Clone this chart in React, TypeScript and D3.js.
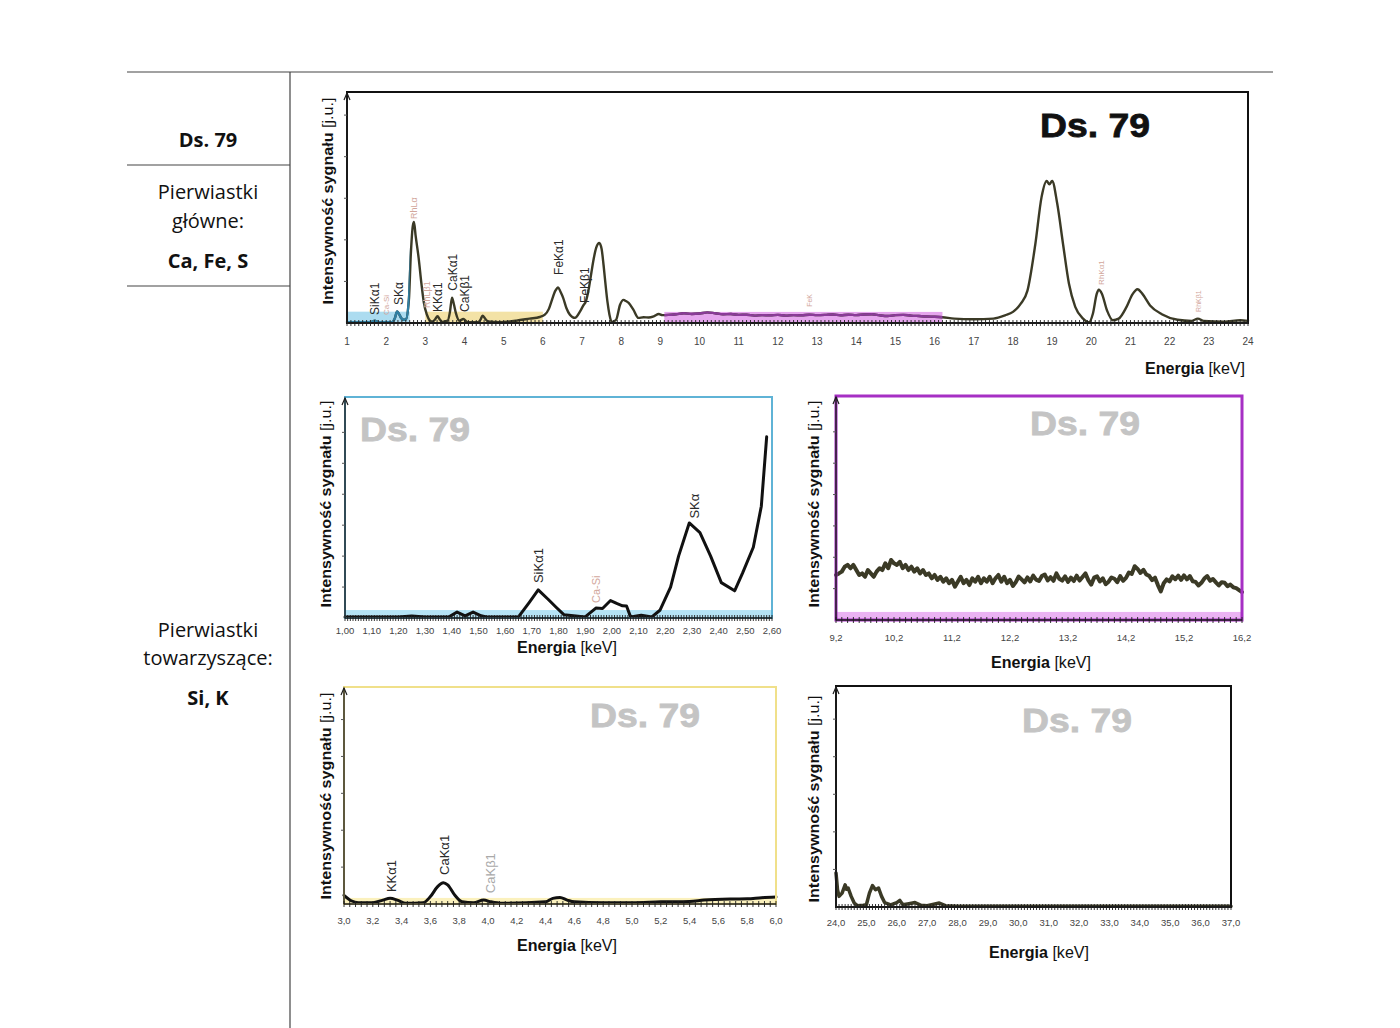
import React from 'react';
import * as d3 from 'd3';

type Pt = [number, number];
type PeakLabel = { text: string; e: number; v: number; color: string; size: number };

const sampleName = 'Ds. 79';
const mainHeader = ['Pierwiastki', 'główne:'];
const mainList = 'Ca, Fe, S';
const traceHeader = ['Pierwiastki', 'towarzyszące:'];
const traceList = 'Si, K';
const yTitleBold = 'Intensywność sygnału';
const yTitleUnit = ' [j.u.]';
const xTitleBold = 'Energia';
const xTitleUnit = ' [keV]';

const DARK = '#2a2a2a';
const PINK = '#d2a79c';
const OLIVE = '#3b3a26';

// Full spectrum 1–24 keV: [energy keV, intensity a.u.]
const topSpectrum: Pt[] = [
  [1.0, 0.4], [1.3, 0.3], [1.56, 0.4], [1.65, 0.6], [1.71, 1.0], [1.78, 0.5], [1.86, 0.3], [2.0, 0.4],
  [2.15, 0.4], [2.22, 2.0], [2.28, 5.0], [2.34, 3.5], [2.39, 2.0], [2.45, 1.4], [2.5, 1.5], [2.58, 10],
  [2.63, 30], [2.68, 42], [2.71, 43.7], [2.75, 38], [2.83, 28], [2.9, 17], [2.96, 9], [3.04, 3.6],
  [3.12, 1.0], [3.18, 0.6], [3.25, 1.6], [3.31, 2.9], [3.37, 1.5], [3.43, 0.5], [3.57, 1.0], [3.63, 5],
  [3.68, 11], [3.73, 8], [3.78, 4.3], [3.87, 1.0], [3.97, 1.7], [4.08, 0.4], [4.34, 0.4], [4.41, 1.5],
  [4.46, 3.2], [4.53, 1.8], [4.6, 0.7], [4.9, 0.4], [5.32, 1.0], [5.66, 1.9], [5.92, 2.6], [6.05, 3.6],
  [6.15, 6], [6.22, 9.4], [6.32, 14], [6.39, 15.4], [6.45, 13.5], [6.52, 10.8], [6.6, 6.5], [6.69, 3.6],
  [6.82, 2.2], [6.95, 5.0], [7.03, 7.5], [7.1, 9.5], [7.16, 13.7], [7.24, 22], [7.3, 28], [7.36, 32.5],
  [7.44, 34.6], [7.5, 32], [7.55, 25], [7.6, 16.6], [7.65, 9], [7.7, 3.6], [7.76, 0.4], [7.87, 1.4],
  [7.97, 7.9], [8.06, 10], [8.12, 9.5], [8.19, 8.7], [8.31, 5.8], [8.44, 2.2], [8.57, 2.5], [8.7, 2.4],
  [8.83, 2.9], [8.96, 3.9], [9.05, 3.4], [9.2, 3.5], [9.4, 3.8], [9.6, 4.2], [9.8, 3.9], [10.0, 4.1],
  [10.2, 4.6], [10.4, 4.2], [10.6, 3.8], [10.8, 3.9], [11.0, 3.5], [11.2, 3.6], [11.4, 3.2], [11.6, 3.4],
  [11.8, 3.3], [12.0, 3.5], [12.2, 3.2], [12.4, 3.4], [12.6, 3.3], [12.8, 3.6], [13.0, 3.4], [13.2, 3.5],
  [13.4, 3.7], [13.6, 3.3], [13.8, 3.6], [14.0, 3.4], [14.2, 3.7], [14.4, 3.8], [14.6, 3.3], [14.8, 3.0],
  [15.0, 3.4], [15.2, 3.5], [15.4, 3.2], [15.6, 3.0], [15.8, 2.8], [16.0, 2.7], [16.2, 2.5], [16.5, 1.9],
  [17.0, 1.6], [17.5, 1.9], [17.8, 3.3], [18.0, 4.8], [18.2, 8.4], [18.37, 14], [18.57, 34], [18.73, 54.5],
  [18.86, 61.5], [18.93, 60], [19.0, 61.5], [19.13, 51.7], [19.28, 34], [19.43, 17], [19.59, 7], [19.79, 1.9],
  [19.94, 0.3], [20.04, 4], [20.14, 12.7], [20.19, 14.4], [20.27, 12.7], [20.4, 5.5], [20.55, 1.2], [20.7, 1.9],
  [20.9, 7], [21.05, 12.4], [21.18, 14.6], [21.3, 12.7], [21.5, 7.6], [21.8, 3.8], [22.2, 1.4], [22.56, 0.9],
  [22.72, 1.9], [22.87, 0.9], [23.4, 0.6], [23.8, 1.2], [24.0, 0.9],
];

// Zoom 1.00–2.60 keV
const siSpectrum: Pt[] = [
  [1.0, 0.5], [1.2, 0.5], [1.25, 0.9], [1.3, 0.5], [1.39, 0.5], [1.42, 2.7], [1.45, 1.0], [1.48, 2.7],
  [1.51, 1.0], [1.53, 0.5], [1.65, 0.5], [1.69, 7], [1.724, 12.7], [1.76, 8.6], [1.79, 5], [1.82, 1.5],
  [1.9, 0.5], [1.94, 4.5], [1.965, 4.3], [1.995, 7.9], [2.02, 6.5], [2.04, 5.5], [2.055, 5.4], [2.07, 0.5],
  [2.11, 1.2], [2.15, 0.5], [2.18, 3.5], [2.22, 14], [2.25, 28], [2.29, 43], [2.33, 38.6], [2.37, 28],
  [2.41, 16], [2.46, 12.3], [2.49, 20.4], [2.53, 32], [2.56, 50.6], [2.58, 82],
];

// Zoom 9.2–16.2 keV
const feSpectrum: Pt[] = [
  [9.2, 20.1], [9.25, 20.8], [9.3, 21.6], [9.35, 23.8], [9.4, 24.6], [9.45, 23.1], [9.5, 24.6], [9.55, 22.3],
  [9.6, 20.1], [9.65, 20.8], [9.7, 19.3], [9.75, 22.3], [9.8, 20.8], [9.85, 19.3], [9.9, 21.6], [9.95, 23.1],
  [10.0, 22.3], [10.05, 25.3], [10.1, 23.1], [10.15, 26.8], [10.2, 25.3], [10.25, 24.6], [10.3, 26.0], [10.35, 23.1],
  [10.4, 24.6], [10.45, 22.3], [10.5, 23.8], [10.55, 21.6], [10.6, 23.1], [10.65, 20.8], [10.7, 22.3], [10.75, 20.1],
  [10.8, 20.8], [10.85, 18.6], [10.9, 20.1], [10.95, 17.9], [11.0, 19.3], [11.05, 17.1], [11.1, 18.6], [11.15, 16.4],
  [11.2, 17.9], [11.25, 14.9], [11.3, 17.1], [11.35, 19.3], [11.4, 16.4], [11.45, 17.9], [11.5, 15.6], [11.55, 18.6],
  [11.6, 17.1], [11.65, 19.3], [11.7, 16.4], [11.75, 18.6], [11.8, 17.1], [11.85, 19.3], [11.9, 16.4], [11.95, 18.6],
  [12.0, 20.1], [12.05, 17.1], [12.1, 19.3], [12.15, 16.4], [12.2, 17.9], [12.25, 15.2], [12.3, 16.9], [12.35, 19.4],
  [12.4, 18.1], [12.45, 16.8], [12.5, 19.0], [12.55, 17.2], [12.6, 19.8], [12.65, 18.0], [12.7, 17.4], [12.75, 19.6],
  [12.8, 20.3], [12.85, 17.7], [12.9, 19.1], [12.95, 17.5], [13.0, 20.8], [13.05, 18.4], [13.1, 17.6], [13.15, 19.5],
  [13.2, 17.0], [13.25, 18.9], [13.3, 17.4], [13.35, 19.8], [13.4, 17.6], [13.45, 19.2], [13.5, 20.8], [13.55, 17.8],
  [13.6, 15.8], [13.65, 18.9], [13.7, 19.5], [13.75, 17.2], [13.8, 18.6], [13.85, 16.0], [13.9, 17.1], [13.95, 19.0],
  [14.0, 18.4], [14.05, 16.9], [14.1, 19.6], [14.15, 17.5], [14.2, 18.8], [14.25, 21.2], [14.3, 20.6], [14.35, 24.0],
  [14.4, 22.8], [14.45, 21.0], [14.5, 22.4], [14.55, 20.3], [14.6, 19.7], [14.65, 17.8], [14.7, 18.9], [14.75, 15.6],
  [14.8, 12.8], [14.85, 16.4], [14.9, 18.1], [14.95, 17.2], [15.0, 19.5], [15.05, 18.2], [15.1, 19.8], [15.15, 17.9],
  [15.2, 19.9], [15.25, 18.1], [15.3, 19.6], [15.35, 17.3], [15.4, 17.0], [15.45, 15.4], [15.5, 16.6], [15.55, 18.5],
  [15.6, 19.6], [15.65, 17.5], [15.7, 18.3], [15.75, 16.8], [15.8, 15.4], [15.85, 16.9], [15.9, 16.6], [15.95, 15.1],
  [16.0, 15.8], [16.05, 14.6], [16.1, 14.2], [16.15, 13.3], [16.2, 12.4],
];

// Zoom 3.0–6.0 keV
const caSpectrum: Pt[] = [
  [3.0, 4], [3.05, 1.5], [3.1, 0.6], [3.2, 0.6], [3.27, 1.8], [3.32, 2.6], [3.37, 1.8], [3.43, 0.3],
  [3.55, 0.6], [3.6, 3.4], [3.65, 8], [3.69, 9.8], [3.72, 8.8], [3.77, 4], [3.82, 1], [3.9, 0.6],
  [3.97, 1.8], [4.02, 1], [4.1, 0.3], [4.4, 1], [4.45, 2.6], [4.5, 3], [4.55, 1.8], [4.6, 1],
  [4.8, 0.6], [5.0, 0.6], [5.2, 1], [5.4, 1.2], [5.5, 1.8], [5.7, 2.3], [5.8, 2.4], [5.9, 2.9], [6.0, 3.2],
];

// Zoom 24–37 keV
const highSpectrum: Pt[] = [
  [24.0, 15.4], [24.05, 7.8], [24.1, 4.8], [24.2, 6.3], [24.3, 10], [24.35, 8], [24.4, 8.6], [24.5, 4.8],
  [24.6, 1.8], [24.7, 0.6], [24.9, 0.8], [25.0, 1], [25.1, 6.3], [25.2, 9.7], [25.3, 7.8], [25.4, 8.6],
  [25.5, 4.8], [25.6, 2], [25.8, 1], [26.0, 2], [26.1, 3], [26.2, 1], [26.4, 1.5], [26.6, 2],
  [26.8, 0.8], [27.0, 0.6], [27.4, 1.8], [27.6, 0.6], [28.0, 0.3], [37.0, 0.3],
];

const topTicks = [1, 2, 3, 4, 5, 6, 7, 8, 9, 10, 11, 12, 13, 14, 15, 16, 17, 18, 19, 20, 21, 22, 23, 24];
const siTicks = [1.0, 1.1, 1.2, 1.3, 1.4, 1.5, 1.6, 1.7, 1.8, 1.9, 2.0, 2.1, 2.2, 2.3, 2.4, 2.5, 2.6];
const feTicks = [9.2, 10.2, 11.2, 12.2, 13.2, 14.2, 15.2, 16.2];
const caTicks = [3.0, 3.2, 3.4, 3.6, 3.8, 4.0, 4.2, 4.4, 4.6, 4.8, 5.0, 5.2, 5.4, 5.6, 5.8, 6.0];
const highTicks = [24, 25, 26, 27, 28, 29, 30, 31, 32, 33, 34, 35, 36, 37];

const topLabels: PeakLabel[] = [
  { text: 'SiKα1', e: 1.72, v: 3.5, color: DARK, size: 12 },
  { text: 'Ca-Si', e: 2.0, v: 3.5, color: PINK, size: 8 },
  { text: 'SKα', e: 2.31, v: 7.8, color: DARK, size: 12 },
  { text: 'RhLα', e: 2.7, v: 45, color: PINK, size: 9 },
  { text: 'RhLβ1', e: 3.05, v: 6.5, color: PINK, size: 9 },
  { text: 'KKα1', e: 3.31, v: 4.8, color: DARK, size: 12 },
  { text: 'CaKα1', e: 3.69, v: 14, color: DARK, size: 12 },
  { text: 'CaKβ1', e: 4.01, v: 4.8, color: DARK, size: 12 },
  { text: 'FeKα1', e: 6.4, v: 20.8, color: DARK, size: 12 },
  { text: 'FeKβ1', e: 7.06, v: 8.7, color: DARK, size: 12 },
  { text: 'FeK', e: 12.82, v: 7, color: PINK, size: 7 },
  { text: 'RhKα1', e: 20.25, v: 16.5, color: PINK, size: 8 },
  { text: 'RhKβ1', e: 22.74, v: 4.8, color: PINK, size: 7 },
];
const siLabels: PeakLabel[] = [
  { text: 'SiKα1', e: 1.725, v: 15.8, color: DARK, size: 13 },
  { text: 'Ca-Si', e: 1.94, v: 6.8, color: PINK, size: 11 },
  { text: 'SKα', e: 2.31, v: 45, color: DARK, size: 13 },
];
const caLabels: PeakLabel[] = [
  { text: 'KKα1', e: 3.33, v: 5.5, color: DARK, size: 13 },
  { text: 'CaKα1', e: 3.7, v: 13.4, color: DARK, size: 13 },
  { text: 'CaKβ1', e: 4.02, v: 5, color: '#a9a9a9', size: 13 },
];

interface ChartCfg {
  id: string;
  left: number; right: number; top: number; bottom: number;
  xDomain: [number, number];
  ticks: number[];
  fmt: (v: number) => string;
  minorStep: number;
  data: Pt[];
  curve: any;
  lineColor: string; lineWidth: number;
  frameColor: string; frameWidth: number;
  bands: { from: number; to: number; color: string; top: number }[];
  overlays: { from: number; to: number; color: string }[];
  yTickStep: number; yTickCount: number;
  tickLabelY: number; tickFont: number;
  yTitleX: number; yTitleY: number;
  xTitleX: number; xTitleY: number; xTitleAnchor: 'start' | 'middle' | 'end';
  wmX: number; wmY: number; wmColor: string;
  labels: PeakLabel[];
}

const comma = (digits: number) => (v: number) => v.toFixed(digits).replace('.', ',');

function Chart({ c }: { c: ChartCfg }) {
  const x = d3.scaleLinear().domain(c.xDomain).range([c.left, c.right]);
  const y = d3.scaleLinear().domain([0, 100]).range([c.bottom, c.top]);
  const line = d3.line<Pt>().x(d => x(d[0])).y(d => y(d[1])).curve(c.curve);
  const path = line(c.data) || '';
  const minor = d3.range(c.xDomain[0], c.xDomain[1] + c.minorStep * 0.5, c.minorStep);
  const yTicks = d3.range(1, c.yTickCount + 1).map(i => i * c.yTickStep);
  return (
    <g>
      <defs>
        {c.overlays.map((o, i) => (
          <clipPath id={`${c.id}-clip-${i}`} key={i}>
            <rect x={x(o.from)} y={c.top} width={x(o.to) - x(o.from)} height={c.bottom - c.top + 6} />
          </clipPath>
        ))}
      </defs>
      {c.bands.map((b, i) => (
        <rect key={i} x={x(b.from)} y={y(b.top)} width={x(b.to) - x(b.from)} height={c.bottom - y(b.top)} fill={b.color} />
      ))}
      <path d={path} fill="none" stroke={c.lineColor} strokeWidth={c.lineWidth} strokeLinejoin="round" strokeLinecap="round" />
      {c.overlays.map((o, i) => (
        <path key={i} d={path} fill="none" stroke={o.color} strokeWidth={c.lineWidth} strokeLinejoin="round"
          clipPath={`url(#${c.id}-clip-${i})`} />
      ))}
      <rect x={c.left} y={c.top} width={c.right - c.left} height={c.bottom - c.top} fill="none"
        stroke={c.frameColor} strokeWidth={c.frameWidth} />
      <line x1={c.left} x2={c.right} y1={c.bottom} y2={c.bottom} stroke="#1e1e1e" strokeWidth={1.6} />
      {minor.map((m, i) => (
        <line key={i} x1={x(m)} x2={x(m)} y1={c.bottom - 3} y2={c.bottom + 3} stroke="#1e1e1e" strokeWidth={0.9} />
      ))}
      <line x1={c.left} x2={c.left} y1={c.bottom} y2={c.top + 1} stroke="#1e1e1e" strokeWidth={1.4} />
      <path d={`M${c.left - 3},${c.top + 8} L${c.left},${c.top + 1} L${c.left + 3},${c.top + 8}`} fill="none" stroke="#1e1e1e" strokeWidth={1.2} />
      {yTicks.map((t, i) => (
        <line key={i} x1={c.left - 3} x2={c.left} y1={y(t)} y2={y(t)} stroke="#555" strokeWidth={1} />
      ))}
      {c.ticks.map((t, i) => (
        <text key={i} x={x(t)} y={c.tickLabelY} textAnchor="middle" fontSize={c.tickFont} fill="#444">{c.fmt(t)}</text>
      ))}
      <text transform={`translate(${c.yTitleX},${c.yTitleY}) rotate(-90)`} textAnchor="middle" dominantBaseline="central"
        fontSize={15} textLength={207} lengthAdjust="spacingAndGlyphs" fill="#111">
        <tspan fontWeight="bold">{yTitleBold}</tspan>
        <tspan>{yTitleUnit}</tspan>
      </text>
      <text x={c.xTitleX} y={c.xTitleY} textAnchor={c.xTitleAnchor} fontSize={17} textLength={100}
        lengthAdjust="spacingAndGlyphs" fill="#111">
        <tspan fontWeight="bold">{xTitleBold}</tspan>
        <tspan>{xTitleUnit}</tspan>
      </text>
      <text x={c.wmX} y={c.wmY} fontSize={34} fontWeight="bold" fill={c.wmColor} stroke={c.wmColor} strokeWidth={0.8}
        textLength={110} lengthAdjust="spacingAndGlyphs">{sampleName}</text>
      {c.labels.map((l, i) => (
        <text key={i} transform={`translate(${x(l.e)},${y(l.v)}) rotate(-90)`} dy="0.35em" fontSize={l.size} fill={l.color}>
          {l.text}
        </text>
      ))}
    </g>
  );
}

const charts: ChartCfg[] = [
  {
    id: 'top', left: 347, right: 1248, top: 92, bottom: 323, xDomain: [1, 24], ticks: topTicks, fmt: v => String(v),
    minorStep: 0.1, data: topSpectrum, curve: d3.curveMonotoneX, lineColor: OLIVE, lineWidth: 2.4,
    frameColor: '#111', frameWidth: 2,
    bands: [
      { from: 1.0, to: 2.6, color: '#acdcf0', top: 4.9 },
      { from: 3.0, to: 6.0, color: '#f3e2a6', top: 4.9 },
      { from: 9.1, to: 16.2, color: '#e6a6ee', top: 4.8 },
    ],
    overlays: [
      { from: 1.0, to: 2.6, color: '#2f7fa3' },
      { from: 9.1, to: 16.2, color: '#8a3b98' },
    ],
    yTickStep: 18, yTickCount: 5, tickLabelY: 345, tickFont: 10,
    yTitleX: 327, yTitleY: 201, xTitleX: 1245, xTitleY: 374, xTitleAnchor: 'end',
    wmX: 1040, wmY: 137, wmColor: '#111', labels: topLabels,
  },
  {
    id: 'si', left: 345, right: 772, top: 397, bottom: 618, xDomain: [1.0, 2.6], ticks: siTicks, fmt: comma(2),
    minorStep: 0.01, data: siSpectrum, curve: d3.curveLinear, lineColor: '#111', lineWidth: 3,
    frameColor: '#5fb3d6', frameWidth: 2,
    bands: [{ from: 1.0, to: 2.6, color: '#b5e3f5', top: 3.6 }], overlays: [],
    yTickStep: 14, yTickCount: 6, tickLabelY: 634, tickFont: 9.5,
    yTitleX: 325, yTitleY: 504, xTitleX: 567, xTitleY: 653, xTitleAnchor: 'middle',
    wmX: 360, wmY: 441, wmColor: '#c4c4c4', labels: siLabels,
  },
  {
    id: 'fe', left: 836, right: 1242, top: 396, bottom: 620, xDomain: [9.2, 16.2], ticks: feTicks, fmt: comma(1),
    minorStep: 0.1, data: feSpectrum, curve: d3.curveLinear, lineColor: OLIVE, lineWidth: 4,
    frameColor: '#a62fc4', frameWidth: 3,
    bands: [{ from: 9.2, to: 16.2, color: '#ebb3f3', top: 3.6 }], overlays: [],
    yTickStep: 14, yTickCount: 6, tickLabelY: 641, tickFont: 9.5,
    yTitleX: 813, yTitleY: 504, xTitleX: 1041, xTitleY: 668, xTitleAnchor: 'middle',
    wmX: 1030, wmY: 435, wmColor: '#c4c4c4', labels: [],
  },
  {
    id: 'ca', left: 344, right: 776, top: 687, bottom: 904, xDomain: [3.0, 6.0], ticks: caTicks, fmt: comma(1),
    minorStep: 0.04, data: caSpectrum, curve: d3.curveMonotoneX, lineColor: '#111', lineWidth: 3,
    frameColor: '#f0e08a', frameWidth: 2,
    bands: [{ from: 3.0, to: 6.0, color: '#fbf1bd', top: 2.8 }], overlays: [],
    yTickStep: 17, yTickCount: 5, tickLabelY: 924, tickFont: 9.5,
    yTitleX: 325, yTitleY: 796, xTitleX: 567, xTitleY: 951, xTitleAnchor: 'middle',
    wmX: 590, wmY: 727, wmColor: '#c4c4c4', labels: caLabels,
  },
  {
    id: 'hi', left: 836, right: 1231, top: 686, bottom: 907, xDomain: [24, 37], ticks: highTicks, fmt: comma(1),
    minorStep: 0.1, data: highSpectrum, curve: d3.curveLinear, lineColor: OLIVE, lineWidth: 3.5,
    frameColor: '#111', frameWidth: 2,
    bands: [], overlays: [],
    yTickStep: 17, yTickCount: 5, tickLabelY: 926, tickFont: 9.5,
    yTitleX: 813, yTitleY: 799, xTitleX: 1039, xTitleY: 958, xTitleAnchor: 'middle',
    wmX: 1022, wmY: 732, wmColor: '#c4c4c4', labels: [],
  },
];

export default function App() {
  const tableFont = "'Open Sans', 'Noto Sans', sans-serif";
  return (
    <svg width={1400} height={1028} style={{ position: 'absolute', left: 0, top: 0, background: '#fff' }}
      fontFamily="'Liberation Sans', Arial, sans-serif">
      <rect x={0} y={0} width={1400} height={1028} fill="#fff" />
      <line x1={127} x2={1273} y1={72} y2={72} stroke="#444" strokeWidth={1.2} />
      <line x1={290} x2={290} y1={72} y2={1028} stroke="#444" strokeWidth={1.2} />
      <line x1={127} x2={290} y1={165} y2={165} stroke="#444" strokeWidth={1.2} />
      <line x1={127} x2={290} y1={286} y2={286} stroke="#444" strokeWidth={1.2} />
      <g fontFamily={tableFont} fontSize={20} fill="#111" textAnchor="middle">
        <text x={208} y={147} fontWeight="bold">{sampleName}</text>
        <text x={208} y={199}>{mainHeader[0]}</text>
        <text x={208} y={228}>{mainHeader[1]}</text>
        <text x={208} y={268} fontWeight="bold">{mainList}</text>
        <text x={208} y={637}>{traceHeader[0]}</text>
        <text x={208} y={665}>{traceHeader[1]}</text>
        <text x={208} y={705} fontWeight="bold">{traceList}</text>
      </g>
      {charts.map(c => <Chart key={c.id} c={c} />)}
    </svg>
  );
}
